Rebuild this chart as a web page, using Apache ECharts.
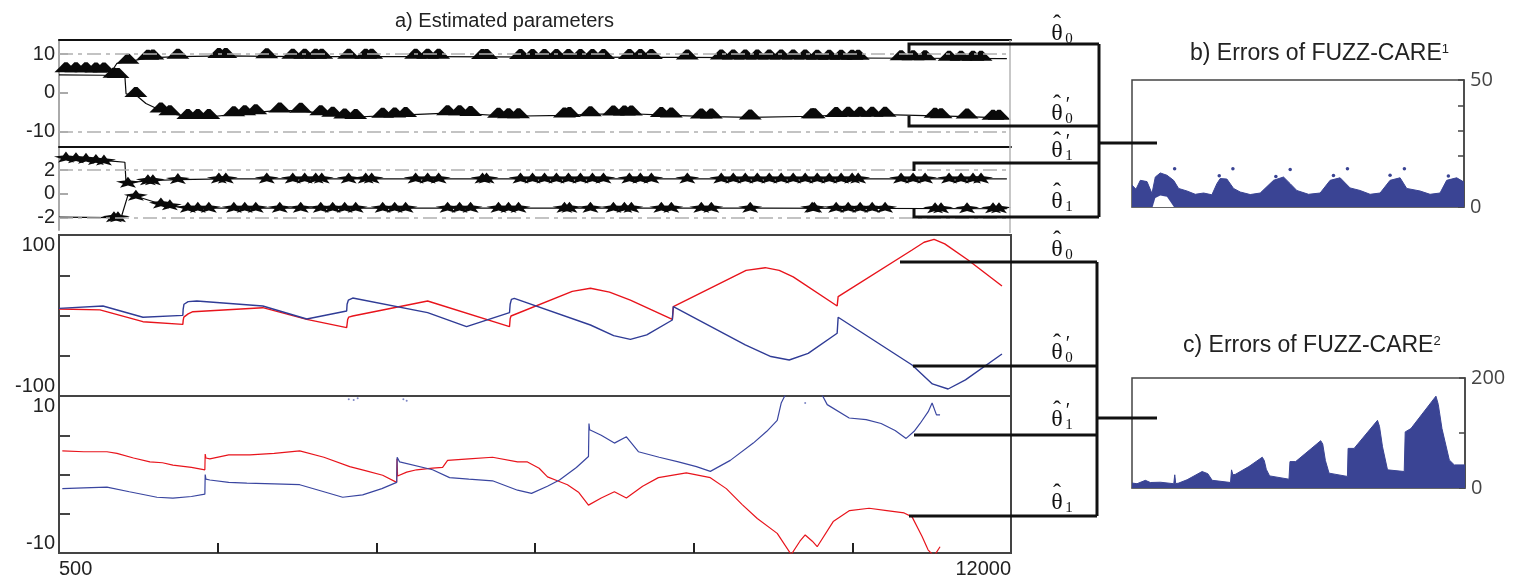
<!DOCTYPE html>
<html><head><meta charset="utf-8">
<script src="https://cdn.jsdelivr.net/npm/echarts@6/dist/echarts.min.js"></script>
<style>html,body{margin:0;padding:0;background:#fff}#c{width:1515px;height:583px}</style>
</head><body><div id="c"></div>
<script>
// ================= DATA =================
const xTickValues = [2416.7, 4333.3, 6250, 8166.7, 10083.3];
const xLabelValues = [500, 12000];

// Panel a1: theta0 estimates (lines)
const th0Line = [[500,5.9],[1140,5.6],[1200,7.6],[1333,8.0],[1574,9.0],[1936,9.3],[2515,9.5],[3010,9.4],[3600,9.3],[5000,9.3],[6500,9.2],[8000,9.1],[9600,9.0],[10800,8.9],[11950,8.8]];
const th0pLine = [[500,4.6],[1031,4.5],[1296,4.2],[1310,-0.3],[1429,-0.6],[1550,-2.8],[1731,-4.6],[1839,-5.3],[2057,-6.3],[2310,-6.3],[2612,-5.6],[2877,-5.1],[3167,-4.6],[3420,-4.7],[3662,-5.3],[3951,-6.2],[4084,-6.3],[4555,-5.9],[5194,-5.3],[5472,-5.5],[5930,-6.1],[6606,-5.9],[6920,-5.6],[7330,-5.4],[7897,-5.9],[8380,-6.2],[8850,-6.4],[9600,-6.1],[10033,-5.7],[10479,-5.7],[11083,-6.0],[11469,-6.2],[11950,-6.6]];
// marker positions (upper and lower estimate traces)
const upMarkX = [584,705,826,946,1043,1333,1574,1634,1936,2431,2515,3010,3324,3468,3601,3674,3999,4205,4277,4808,4953,5086,5616,5665,6075,6220,6365,6509,6654,6799,6944,7077,7390,7523,7656,8090,8500,8645,8790,8935,9080,9224,9369,9514,9659,9804,9948,10081,10154,10672,10817,10962,11252,11396,11541,11638];
const th0MarkY = [5.8,5.8,5.8,5.7,5.7,8.0,9.0,9.1,9.3,9.5,9.5,9.4,9.3,9.3,9.3,9.3,9.3,9.3,9.3,9.3,9.3,9.3,9.2,9.2,9.2,9.2,9.2,9.2,9.2,9.2,9.2,9.2,9.2,9.2,9.2,9.1,9.1,9.1,9.1,9.1,9.1,9.1,9.1,9.1,9.0,9.0,9.0,9.0,9.0,8.9,8.9,8.9,8.8,8.8,8.8,8.8];
const lowMarkX = [1164,1212,1429,1731,1839,2057,2177,2310,2612,2744,2877,3167,3420,3662,3806,3951,4084,4410,4555,4687,5194,5339,5472,5809,5930,6051,6606,6666,6920,7197,7330,7414,7776,7897,8259,8380,8850,9598,9623,9888,10033,10178,10323,10479,11083,11155,11469,11783,11855];
const th0pMarkY = [4.4,4.3,-0.6,-4.6,-5.3,-6.3,-6.3,-6.3,-5.6,-5.3,-5.1,-4.6,-4.7,-5.3,-5.7,-6.2,-6.3,-6.0,-5.9,-5.8,-5.3,-5.3,-5.5,-6.0,-6.1,-6.1,-5.9,-5.8,-5.6,-5.4,-5.4,-5.4,-5.8,-5.9,-6.2,-6.2,-6.4,-6.1,-6.1,-5.8,-5.7,-5.7,-5.7,-5.7,-6.0,-6.1,-6.2,-6.5,-6.5];

// Panel a2: theta1 estimates
const th1pLine = [[500,3.05],[1140,2.75],[1296,2.65],[1310,0.9],[1574,1.1],[1936,1.2],[2500,1.25],[6000,1.25],[9000,1.25],[11950,1.25]];
const th1Line = [[500,-1.95],[1164,-2.0],[1250,-2.0],[1333,-0.1],[1429,-0.2],[1731,-0.85],[1839,-1.0],[2057,-1.2],[2500,-1.2],[6000,-1.2],[9000,-1.2],[11950,-1.25]];
const th1pMarkY = [3.0,2.95,2.9,2.8,2.75,0.9,1.1,1.1,1.2,1.25,1.25,1.25,1.25,1.25,1.25,1.25,1.25,1.25,1.25,1.25,1.25,1.25,1.25,1.25,1.25,1.25,1.25,1.25,1.25,1.25,1.25,1.25,1.25,1.25,1.25,1.25,1.25,1.25,1.25,1.25,1.25,1.25,1.25,1.25,1.25,1.25,1.25,1.25,1.25,1.25,1.25,1.25,1.25,1.25,1.25,1.25];
const th1MarkY = [-2.0,-2.0,-0.2,-0.85,-1.0,-1.2,-1.2,-1.2,-1.2,-1.2,-1.2,-1.2,-1.2,-1.2,-1.2,-1.2,-1.2,-1.2,-1.2,-1.2,-1.2,-1.2,-1.2,-1.2,-1.2,-1.2,-1.2,-1.2,-1.2,-1.2,-1.2,-1.2,-1.2,-1.2,-1.2,-1.2,-1.2,-1.2,-1.2,-1.2,-1.2,-1.2,-1.2,-1.2,-1.25,-1.25,-1.25,-1.25,-1.25];

// Panel a3: theta0 trajectories
const th0Red = [[500,8],[995,7],[1514,-7.7],[1996,-11],[2000,-6],[2008,-2],[2060,2],[2117,4.7],[2962,9.7],[3493,-4.8],[3975,-15],[3987,-5],[4000,-2],[4048,-0.6],[4953,18],[5942,-13.9],[5950,-4],[5960,-0.6],[6700,30],[6920,33.8],[7150,29],[7402,19],[7909,-4.8],[7921,11],[8800,56],[9031,59.4],[9200,56],[9369,48],[9900,11.8],[9912,23.4],[10805,81.4],[10950,91],[11071,94.6],[11200,89],[11481,69],[11891,36.6]];
const th0Blue = [[500,8.9],[1031,11.8],[1514,-2.2],[1996,0.2],[2000,8],[2010,14],[2060,17.2],[2165,18],[2962,11.8],[3493,-4.3],[3975,5.6],[3980,14],[3995,19],[4048,21.7],[4953,3.5],[5423,-13.9],[5942,3.5],[5950,14],[5965,20],[6000,21.3],[6920,-11.8],[7200,-25],[7402,-29.6],[7600,-24],[7909,-5.6],[7921,11],[8790,-36.6],[9100,-51],[9321,-55.3],[9550,-47],[9900,-22],[9912,-2.2],[10805,-61.5],[11050,-85],[11240,-91.3],[11450,-80],[11891,-47.8]];

// Panel a4: theta1 trajectories
const th1Red = [[540,3.0],[800,2.9],[1079,2.9],[1200,2.7],[1400,2.1],[1598,1.6],[1750,1.5],[1876,1.2],[2100,0.9],[2262,0.6],[2266,2.6],[2275,2.1],[2322,2.0],[2550,2.5],[2805,2.5],[3100,2.7],[3408,3.0],[3700,2.2],[4012,1.0],[4200,0.5],[4410,-0.1],[4579,-1.0],[4583,2.0],[4590,-0.2],[4700,0.3],[4820,0.6],[5013,0.8],[5134,0.9],[5194,1.8],[5450,2.0],[5737,2.2],[6039,1.6],[6159,1.6],[6300,0.8],[6401,-0.3],[6520,-0.8],[6642,-1.3],[6780,-2.3],[6896,-3.9],[6915,-3.9],[7050,-3.0],[7209,-2.2],[7354,-3.0],[7550,-1.5],[7740,-0.4],[8078,0.2],[8368,-0.4],[8561,-1.8],[8750,-3.8],[8935,-5.6],[9176,-7.5],[9345,-10.2],[9450,-8.5],[9514,-7.7],[9600,-8.5],[9659,-9.2],[9852,-6.0],[10050,-4.6],[10286,-4.3],[10500,-4.6],[10709,-4.9],[10805,-5.4],[10926,-7.9],[10998,-9.6],[11070,-10.4],[11143,-9.2]];
const th1Blue = [[540,-1.8],[800,-1.7],[1079,-1.6],[1350,-2.2],[1683,-2.9],[1876,-3.0],[2100,-2.8],[2262,-2.5],[2266,0.0],[2275,-0.6],[2322,-0.7],[2550,-1.0],[2769,-1.1],[3100,-1.2],[3408,-1.3],[3700,-2.2],[3927,-2.9],[4168,-2.6],[4400,-1.8],[4579,-1.0],[4585,2.2],[4615,1.6],[5013,0.6],[5218,-0.4],[5450,-0.6],[5737,-0.8],[6039,-2.0],[6208,-2.4],[6400,-1.5],[6546,-0.7],[6750,0.9],[6896,2.3],[6902,6.5],[6910,5.7],[7050,5.0],[7209,4.0],[7354,4.8],[7499,2.9],[7750,2.2],[7982,1.6],[8200,1.0],[8368,0.4],[8609,1.8],[8887,4.0],[9050,5.5],[9176,6.9],[9224,9.1],[9290,10.5],[9500,null],[9700,10.5],[9780,8.9],[10045,7.2],[10250,7.0],[10431,6.5],[10600,5.6],[10733,4.6],[10830,5.5],[10902,6.5],[11000,8.0],[11047,9.1],[11100,7.6],[11143,7.6]];
const th1BlueOut = [[4000,9.6],[4060,9.5],[4108,9.7],[4660,9.6],[4700,9.4],[9514,9.1]];

// Panel b: errors of FUZZ-CARE1 (envelope, hole, outliers)
const errB = [[0,8.6],[12,7],[25,10.5],[45,10],[60,5.3],[70,11.8],[85,13.4],[105,12.5],[125,10.5],[140,7.3],[165,6.3],[190,5],[215,5.5],[240,4.8],[255,9.2],[265,11.2],[285,11],[305,7.3],[325,5.9],[355,4.9],[385,5.5],[425,10.5],[455,11.8],[475,9.2],[495,6.5],[530,5],[565,5.5],[595,10.5],[625,11.5],[655,7.5],[685,6.5],[715,5],[745,5.5],[775,10.5],[805,11.5],[825,7.3],[865,6.3],[895,5],[925,5.5],[945,10.5],[975,11.5],[997,9.8]];
const errBHole = [[62,0],[70,3.5],[85,4.5],[105,4.0],[126,0]];
const errBOut = [[128,15.1],[303,15.1],[475,14.8],[647,15.1],[818,15.1],[92,12],[262,12.3],[432,12],[605,12.4],[775,12.5],[950,12.2]];

// Panel c: errors of FUZZ-CARE2
const errC = [[0,9],[15,7.8],[40,13.9],[55,10],[85,10.5],[125,7.8],[128,24],[131,7.8],[140,9],[165,15],[210,30],[227,26],[240,14],[295,10],[298,33],[302,24],[310,25],[350,39],[390,56],[396,50],[402,34],[412,22],[470,16],[473,48],[490,48],[565,86],[571,80],[579,50],[590,27],[645,21],[647,72],[665,72],[735,123],[741,112],[750,75],[765,33],[815,30],[818,102],[835,108],[910,167],[917,152],[928,108],[950,51],[965,42],[997,42]];

// ================= STYLE =================
const RED = '#e8141c', BLUE = '#303c96', EBLUE = '#3a4494', INK = '#0a0a0a';
const SANS = '"Liberation Sans", Arial, sans-serif';
const SERIF = '"Liberation Serif", "Times New Roman", serif';
const TRAP = 'path://M-11,5 L-1.5,-5 L1.5,-5 L11,5 Z';
const STAR = 'path://M0,-10 L3,-3 L12,-1 L5,3 L8,10 L0,6 L-8,10 L-5,3 L-12,-1 L-3,-3 Z';

const pair = (xs, ys) => xs.map((x, i) => [x, ys[i]]);

const chart = echarts.init(document.getElementById('c'), null, {renderer: 'canvas'});

const L = 59, W = 952;
const grids = [
  {left: L, top: 40, width: W, height: 107},
  {left: L, top: 147, width: W, height: 83},
  {left: L, top: 235, width: W, height: 161, show: true, borderColor: '#444', borderWidth: 2},
  {left: L, top: 396, width: W, height: 157, show: true, borderColor: '#444', borderWidth: 2},
  {left: 1132, top: 80, width: 332, height: 127, show: true, borderColor: '#444', borderWidth: 1.5},
  {left: 1132, top: 378, width: 333, height: 110, show: true, borderColor: '#444', borderWidth: 1.5}
];

const hiddenX = (gi, pos, color) => ({
  gridIndex: gi, type: 'value', min: 500, max: 12000, position: pos || 'bottom',
  axisLine: {show: !!color, onZero: false, lineStyle: {color: color || '#000', width: 2}},
  axisTick: {show: false}, axisLabel: {show: false}, splitLine: {show: false}
});

const xAxes = [
  hiddenX(0, 'top', '#111'),
  hiddenX(1, 'top', '#111'),
  hiddenX(2),
  {gridIndex: 3, type: 'value', min: 500, max: 12000, position: 'bottom',
   axisLine: {show: true, onZero: false, lineStyle: {color: '#444', width: 2}},
   axisTick: {show: true, inside: true, length: 10, customValues: xTickValues, lineStyle: {color: '#222', width: 2}},
   axisLabel: {show: true, customValues: xLabelValues, alignMinLabel: 'left', alignMaxLabel: 'right',
     fontSize: 20, fontFamily: SANS, color: '#222', margin: 6, formatter: v => String(Math.round(v))},
   splitLine: {show: false}},
  {gridIndex: 4, type: 'value', min: 0, max: 997, axisLine: {show: true, onZero: false, lineStyle: {color: '#666', width: 1.5}},
   axisTick: {show: false}, axisLabel: {show: false}, splitLine: {show: false}},
  {gridIndex: 5, type: 'value', min: 0, max: 997, axisLine: {show: true, onZero: false, lineStyle: {color: '#666', width: 1.5}},
   axisTick: {show: false}, axisLabel: {show: false}, splitLine: {show: false}}
];

const leftY = (gi, min, max, ticks, labels, color, tickLen, extraLabel) => ({
  gridIndex: gi, type: 'value', min: min, max: max,
  axisLine: {show: true, onZero: false, lineStyle: {color: color, width: 2}},
  axisTick: {show: true, inside: true, length: tickLen, customValues: ticks, lineStyle: {color: color, width: 2}},
  axisLabel: Object.assign({show: true, customValues: labels, fontSize: 20, fontFamily: SANS, color: '#222', margin: 4}, extraLabel || {}),
  splitLine: {show: false}
});

const yAxes = [
  leftY(0, -14.06, 13.62, [-10, 0, 10], [-10, 0, 10], '#aaa', 9),
  leftY(1, -3.03, 3.93, [-2, 0, 2], [-2, 0, 2], '#aaa', 9),
  leftY(2, -100, 100, [-50, 0, 50], [-100, 100], '#444', 11, {verticalAlignMinLabel: 'bottom', verticalAlignMaxLabel: 'top'}),
  leftY(3, -10, 10, [-5, 0, 5], [-10, 10], '#444', 11, {verticalAlignMinLabel: 'bottom', verticalAlignMaxLabel: 'top'}),
  {gridIndex: 4, type: 'value', position: 'right', min: 0, max: 50, interval: 10,
   axisLine: {show: true, onZero: false, lineStyle: {color: '#444', width: 1.5}},
   axisTick: {show: true, inside: true, length: 6, lineStyle: {color: '#444', width: 1.5}},
   axisLabel: {show: true, fontSize: 20, fontFamily: '"Open Sans", sans-serif', color: '#444', margin: 6,
     formatter: v => (v === 0 || v === 50) ? String(v) : ''},
   splitLine: {show: false}},
  {gridIndex: 5, type: 'value', position: 'right', min: 0, max: 200, interval: 100,
   axisLine: {show: true, onZero: false, lineStyle: {color: '#444', width: 1.5}},
   axisTick: {show: true, inside: true, length: 6, lineStyle: {color: '#444', width: 1.5}},
   axisLabel: {show: true, fontSize: 20, fontFamily: '"Open Sans", sans-serif', color: '#444', margin: 6,
     formatter: v => (v === 0 || v === 200) ? String(v) : ''},
   splitLine: {show: false}}
];

const dashML = vals => ({
  silent: true, symbol: 'none', label: {show: false},
  lineStyle: {color: '#b0b0b0', width: 1.5, type: [14, 5, 4, 5]},
  data: vals.map(v => ({yAxis: v}))
});

const lineS = (gi, data, color, width, extra) => Object.assign({
  type: 'line', xAxisIndex: gi, yAxisIndex: gi, data: data, showSymbol: false, symbol: 'none',
  lineStyle: {color: color, width: width}, itemStyle: {color: color}, silent: true, z: 3
}, extra || {});

const markS = (gi, data, symbol, size, offset) => ({
  type: 'scatter', xAxisIndex: gi, yAxisIndex: gi, data: data, symbol: symbol, symbolSize: size,
  symbolOffset: [0, offset], itemStyle: {color: INK, opacity: 1}, silent: true, z: 4
});

const series = [
  lineS(0, th0Line, INK, 1.2, {markLine: dashML([10, -10])}),
  lineS(0, th0pLine, INK, 1.2),
  markS(0, pair(upMarkX, th0MarkY), TRAP, [23, 10], -3),
  markS(0, pair(lowMarkX, th0pMarkY), TRAP, [23, 10], -3),
  lineS(1, th1pLine, INK, 1.2, {markLine: dashML([2, -2])}),
  lineS(1, th1Line, INK, 1.2),
  markS(1, pair(upMarkX, th1pMarkY), STAR, [24, 11], -1),
  markS(1, pair(lowMarkX, th1MarkY), STAR, [24, 11], -1),
  lineS(2, th0Red, RED, 1.4),
  lineS(2, th0Blue, BLUE, 1.4),
  lineS(3, th1Red, RED, 1.2),
  lineS(3, th1Blue, '#3a46a0', 1.2, {connectNulls: false}),
  {type: 'scatter', xAxisIndex: 3, yAxisIndex: 3, data: th1BlueOut, symbolSize: 2, itemStyle: {color: '#7d86c4', opacity: 1}, silent: true},
  lineS(4, errB, EBLUE, 1, {areaStyle: {color: EBLUE, opacity: 1}}),
  lineS(4, errBHole, '#ffffff', 0, {areaStyle: {color: '#ffffff', opacity: 1}, z: 4}),
  {type: 'scatter', xAxisIndex: 4, yAxisIndex: 4, data: errBOut, symbolSize: 3.5, itemStyle: {color: EBLUE, opacity: 1}, silent: true},
  lineS(5, errC, EBLUE, 1, {areaStyle: {color: EBLUE, opacity: 1}})
];

// ============ annotations (brackets, labels, titles) ============
const seg = pts => ({type: 'polyline', shape: {points: pts}, style: {stroke: '#111', lineWidth: 3, fill: null}, z: 100, silent: true});
const txt = (x, y, text, font, align, vAlign, fill) => ({type: 'text', x: x, y: y, z: 101, silent: true,
  style: {text: text, font: font, fill: fill || '#111', align: align || 'center', verticalAlign: vAlign || 'middle',
          textAlign: align || 'center', textVerticalAlign: vAlign || 'middle'}});

function thetaLabel(cx, cy, sub, prime) {
  const els = [
    txt(cx, cy, 'θ', '24px ' + SERIF),
    txt(cx, cy - 9, 'ˆ', '24px ' + SERIF),
    txt(cx + 12, cy + 5, sub, '15px ' + SERIF)
  ];
  if (prime) els.push(txt(cx + 11, cy - 8, '′', '20px ' + SERIF));
  return els;
}

const graphic = [
  // right gray border of panels a1/a2
  {type: 'line', shape: {x1: 1010, y1: 40, x2: 1010, y2: 233}, style: {stroke: '#b5b5b5', lineWidth: 1.5}, z: 50, silent: true},
  // top bracket group
  seg([[909, 53], [909, 44], [1099, 44]]),
  seg([[909, 116], [909, 126], [1099, 126]]),
  seg([[914, 171], [914, 163], [1099, 163]]),
  seg([[914, 209], [914, 217], [1099, 217]]),
  seg([[1099, 44], [1099, 217]]),
  seg([[1099, 143], [1157, 143]]),
  // bottom bracket group
  seg([[900, 262], [1097, 262]]),
  seg([[913, 366], [1097, 366]]),
  seg([[914, 435], [1097, 435]]),
  seg([[909, 516], [1097, 516]]),
  seg([[1097, 262], [1097, 516]]),
  seg([[1097, 418], [1157, 418]]),
  ...thetaLabel(1057, 34, '0', false),
  ...thetaLabel(1057, 114, '0', true),
  ...thetaLabel(1057, 151, '1', true),
  ...thetaLabel(1057, 202, '1', false),
  ...thetaLabel(1057, 250, '0', false),
  ...thetaLabel(1057, 353, '0', true),
  ...thetaLabel(1057, 420, '1', true),
  ...thetaLabel(1057, 503, '1', false),
  txt(395, 21, 'a) Estimated parameters', '20px ' + SANS, 'left', 'middle', '#222'),
  {type: 'text', x: 1190, y: 54, z: 101, silent: true,
   style: {text: '{m|b) Errors of FUZZ-CARE}{s|1}', align: 'left', verticalAlign: 'middle', textAlign: 'left', textVerticalAlign: 'middle',
     rich: {m: {fontSize: 23, fontFamily: SANS, fill: '#222', color: '#222'}, s: {fontSize: 13, fontFamily: SANS, fill: '#222', color: '#222', verticalAlign: 'top'}}}},
  {type: 'text', x: 1183, y: 346, z: 101, silent: true,
   style: {text: '{m|c) Errors of FUZZ-CARE}{s|2}', align: 'left', verticalAlign: 'middle', textAlign: 'left', textVerticalAlign: 'middle',
     rich: {m: {fontSize: 23, fontFamily: SANS, fill: '#222', color: '#222'}, s: {fontSize: 13, fontFamily: SANS, fill: '#222', color: '#222', verticalAlign: 'top'}}}}
];

chart.setOption({
  animation: false,
  backgroundColor: '#fff',
  grid: grids,
  xAxis: xAxes,
  yAxis: yAxes,
  series: series,
  graphic: graphic
});
</script>
</body></html>
